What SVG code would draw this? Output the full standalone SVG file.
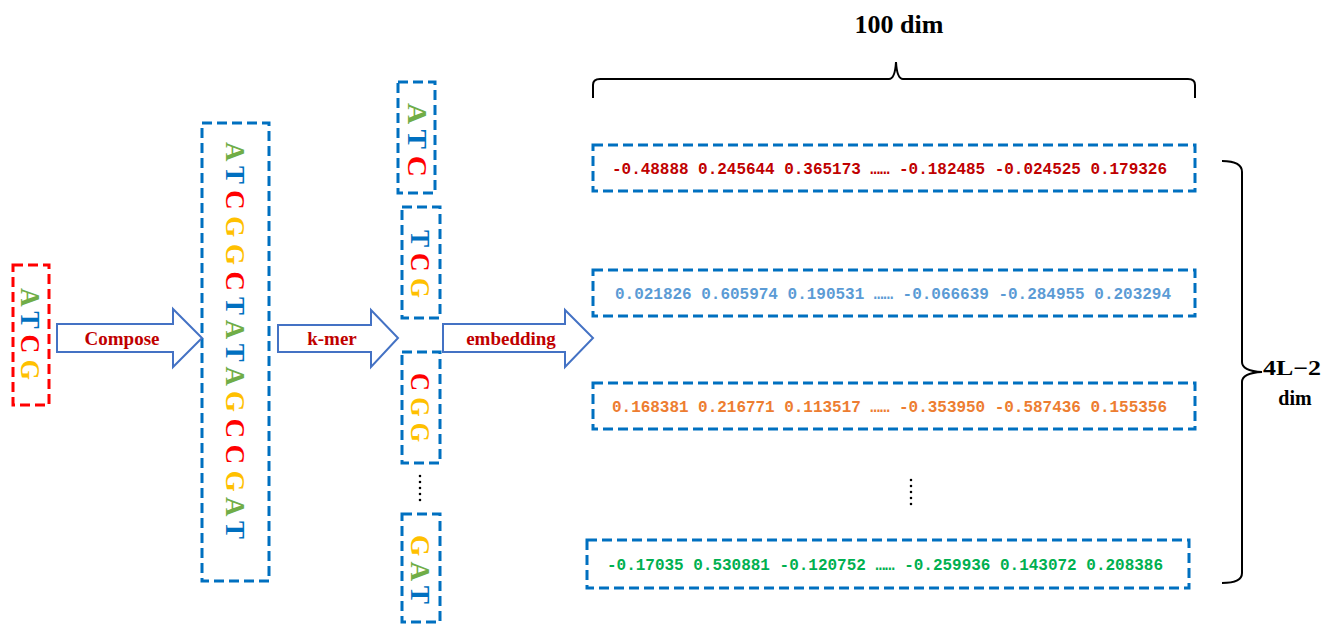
<svg xmlns="http://www.w3.org/2000/svg" width="1325" height="625" viewBox="0 0 1325 625">
<style>
.box{fill:none;stroke:#0070C0;stroke-width:3;stroke-dasharray:10 5}
.rbox{fill:none;stroke:#FF0000;stroke-width:3;stroke-dasharray:10 5}
.arrow{fill:#fff;stroke:#4472C4;stroke-width:2;stroke-linejoin:miter}
.lbl{font-family:"Liberation Serif",serif;font-weight:bold;font-size:19px;fill:#C00000;text-anchor:middle}
.seq{font-family:"Liberation Serif",serif;font-weight:bold;font-size:27px}
.a{fill:#70AD47}.t{fill:#0070C0}.c{fill:#FF0000}.g{fill:#FFC000}
.vec{font-family:"Liberation Mono","DejaVu Sans Mono",monospace;font-weight:bold;font-size:16px}
.brace{fill:none;stroke:#000;stroke-width:2}
.dim{font-family:"Liberation Serif",serif;font-weight:bold;fill:#000}
.dots{stroke:#000;stroke-width:2.6;stroke-linecap:round;stroke-dasharray:0 6}
</style>

<g id="input">
<rect class="rbox" x="13" y="265" width="36" height="140"/>
<text class="seq" transform="translate(30,288) rotate(90)" x="0" y="9" textLength="92" lengthAdjust="spacingAndGlyphs"><tspan class="a">A</tspan> <tspan class="t">T</tspan> <tspan class="c">C</tspan> <tspan class="g">G</tspan></text>
</g>

<g id="composed">
<rect class="box" x="202" y="123" width="67" height="458"/>
<text class="seq" transform="translate(235,142) rotate(90)" x="0" y="9" textLength="397" lengthAdjust="spacingAndGlyphs"><tspan class="a">A</tspan> <tspan class="t">T</tspan> <tspan class="c">C</tspan> <tspan class="g">G</tspan> <tspan class="g">G</tspan> <tspan class="c">C</tspan> <tspan class="t">T</tspan> <tspan class="a">A</tspan> <tspan class="t">T</tspan> <tspan class="a">A</tspan> <tspan class="g">G</tspan> <tspan class="c">C</tspan> <tspan class="c">C</tspan> <tspan class="g">G</tspan> <tspan class="a">A</tspan> <tspan class="t">T</tspan></text>
</g>

<g id="kmer1">
<rect class="box" x="398" y="82" width="37" height="111"/>
<text class="seq" transform="translate(417,103) rotate(90)" x="0" y="9" textLength="74" lengthAdjust="spacingAndGlyphs"><tspan class="a">A</tspan> <tspan class="t">T</tspan> <tspan class="c">C</tspan></text>
</g>
<g id="kmer2">
<rect class="box" x="402" y="207" width="38" height="111"/>
<text class="seq" transform="translate(420,230) rotate(90)" x="0" y="9" textLength="68" lengthAdjust="spacingAndGlyphs"><tspan class="t">T</tspan> <tspan class="c">C</tspan> <tspan class="g">G</tspan></text>
</g>
<g id="kmer3">
<rect class="box" x="402" y="352" width="38" height="111"/>
<text class="seq" transform="translate(420,373) rotate(90)" x="0" y="9" textLength="69" lengthAdjust="spacingAndGlyphs"><tspan class="c">C</tspan> <tspan class="g">G</tspan> <tspan class="g">G</tspan></text>
</g>
<g id="kmer-dots">
<line class="dots" x1="420" y1="476" x2="420" y2="506"/>
</g>
<g id="kmer4">
<rect class="box" x="402" y="514" width="38" height="108"/>
<text class="seq" transform="translate(420,535) rotate(90)" x="0" y="9" textLength="69" lengthAdjust="spacingAndGlyphs"><tspan class="g">G</tspan> <tspan class="a">A</tspan> <tspan class="t">T</tspan></text>
</g>

<g id="vec1">
<rect class="box" x="593" y="145" width="602" height="46"/>
<text class="vec" x="612" y="174" fill="#C00000" textLength="555" lengthAdjust="spacing">-0.48888 0.245644 0.365173 …… -0.182485 -0.024525 0.179326</text>
</g>
<g id="vec2">
<rect class="box" x="593" y="270" width="602" height="46"/>
<text class="vec" x="615" y="299" fill="#5B9BD5" textLength="556" lengthAdjust="spacing">0.021826 0.605974 0.190531 …… -0.066639 -0.284955 0.203294</text>
</g>
<g id="vec3">
<rect class="box" x="593" y="383" width="602" height="46"/>
<text class="vec" x="612" y="412" fill="#ED7D31" textLength="555" lengthAdjust="spacing">0.168381 0.216771 0.113517 …… -0.353950 -0.587436 0.155356</text>
</g>
<g id="vec-dots">
<line class="dots" x1="911" y1="480" x2="911" y2="510"/>
</g>
<g id="vec4">
<rect class="box" x="587" y="540" width="602" height="48"/>
<text class="vec" x="607" y="570" fill="#00B050" textLength="556" lengthAdjust="spacing">-0.17035 0.530881 -0.120752 …… -0.259936 0.143072 0.208386</text>
</g>

<g id="connectors">
<path class="arrow" d="M57,324 L173,324 L173,309 L202,338 L173,367 L173,352 L57,352 Z"/>
<path class="arrow" d="M278,325 L371,325 L371,310 L398,338 L371,367 L371,352 L278,352 Z"/>
<path class="arrow" d="M443,324 L565,324 L565,310 L593,338 L565,367 L565,352 L443,352 Z"/>
</g>
<g id="labels">
<text class="lbl" x="122" y="345">Compose</text>
<text class="lbl" x="332" y="345">k-mer</text>
<text class="lbl" x="511" y="345">embedding</text>
</g>

<g id="top-brace">
<path class="brace" d="M593,98 L593,85 Q593,79 600,79 L889,79 Q895,79 896,62 Q897,79 903,79 L1188,79 Q1195,79 1195,85 L1195,98"/>
<text class="dim" x="899" y="33" font-size="26" text-anchor="middle">100 dim</text>
</g>

<g id="side-brace">
<path class="brace" d="M1222,161 Q1242,161 1242,172 L1242,362 Q1242,371 1262,372 Q1242,373 1242,382 L1242,573 Q1242,583 1222,583"/>
<text class="dim" x="1263" y="375" font-size="21" textLength="58" lengthAdjust="spacingAndGlyphs">4L−2</text>
<text class="dim" x="1295" y="405" font-size="20" text-anchor="middle">dim</text>
</g>
</svg>
